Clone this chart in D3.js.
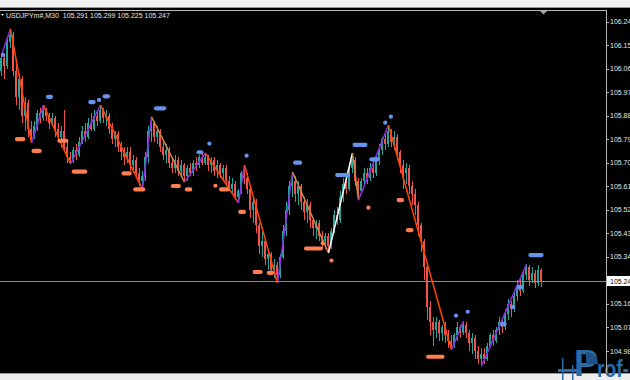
<!DOCTYPE html>
<html>
<head>
<meta charset="utf-8">
<script src="https://cdn.jsdelivr.net/npm/d3@7"></script>
<style>
  body { margin: 0; background: #000; }
  svg { display: block; }
  text { font-family: "Liberation Sans", Arial, sans-serif; }
</style>
</head>
<body>
<svg id="chart" width="630" height="380"></svg>
<script>
// ---- data ----
const symbol = "USDJPYm#,M30";
const lastBar = [105.291, 105.299, 105.225, 105.247]; // O H L C of the last bar
const firstOpen = 106.05;

const closes = [
  106.10,106.07,106.16,106.19,106.05,105.95,106.02,105.88,105.93,105.83,
  105.80,105.84,105.89,105.87,105.90,105.88,105.85,105.87,105.83,105.80,
  105.82,105.76,105.72,105.71,105.75,105.73,105.78,105.82,105.80,105.85,
  105.83,105.88,105.86,105.90,105.87,105.88,105.83,105.79,105.81,105.76,
  105.74,105.72,105.74,105.69,105.71,105.66,105.63,105.65,105.72,105.82,
  105.85,105.80,105.82,105.76,105.73,105.75,105.70,105.68,105.71,105.67,
  105.69,105.65,105.68,105.66,105.70,105.69,105.72,105.70,105.72,105.69,
  105.71,105.67,105.69,105.66,105.68,105.63,105.60,105.62,105.57,105.59,
  105.66,105.64,105.60,105.52,105.55,105.46,105.38,105.40,105.33,105.35,
  105.29,105.31,105.27,105.34,105.44,105.52,105.61,105.63,105.58,105.61,
  105.55,105.51,105.54,105.48,105.45,105.47,105.42,105.40,105.42,105.38,
  105.44,105.50,105.48,105.57,105.62,105.60,105.68,105.71,105.63,105.59,
  105.63,105.66,105.64,105.68,105.66,105.71,105.75,105.79,105.77,105.82,
  105.78,105.80,105.74,105.69,105.66,105.68,105.61,105.58,105.54,105.46,
  105.40,105.30,105.15,105.09,105.06,105.09,105.05,105.07,105.04,105.02,
  105.00,105.04,105.07,105.05,105.08,105.05,105.01,105.03,104.98,104.95,
  104.97,104.95,105.00,105.04,105.02,105.06,105.09,105.07,105.12,105.16,
  105.14,105.19,105.23,105.21,105.27,105.30,105.25,105.28,105.24,105.291,
  105.247
];

const highs = [
  106.12,106.11,106.18,106.212,106.20,106.08,106.04,106.03,105.95,105.94,
  105.86,105.86,105.90,105.91,105.92,105.91,105.89,105.89,105.88,105.85,
  105.84,105.90,105.78,105.74,105.76,105.77,105.80,105.84,105.85,105.87,
  105.89,105.90,105.90,105.92,105.91,105.90,105.89,105.85,105.82,105.82,
  105.78,105.76,105.76,105.76,105.73,105.72,105.68,105.67,105.74,105.84,
  105.875,105.86,105.84,105.83,105.78,105.77,105.76,105.72,105.73,105.72,
  105.71,105.70,105.69,105.70,105.71,105.72,105.73,105.74,105.737,105.73,
  105.72,105.72,105.71,105.70,105.69,105.69,105.65,105.64,105.63,105.60,
  105.67,105.691,105.66,105.61,105.57,105.56,105.47,105.44,105.41,105.37,
  105.36,105.33,105.32,105.35,105.46,105.55,105.63,105.664,105.65,105.63,
  105.62,105.57,105.56,105.55,105.49,105.48,105.48,105.44,105.43,105.43,
  105.45,105.52,105.53,105.59,105.64,105.65,105.70,105.737,105.72,105.64,
  105.64,105.68,105.68,105.70,105.70,105.73,105.77,105.80,105.82,105.844,
  105.83,105.82,105.81,105.75,105.71,105.70,105.69,105.63,105.60,105.55,
  105.47,105.41,105.31,105.17,105.11,105.11,105.10,105.08,105.09,105.06,
  105.04,105.05,105.09,105.08,105.095,105.09,105.06,105.05,105.04,105.00,
  104.99,104.99,105.01,105.05,105.06,105.07,105.11,105.10,105.14,105.18,
  105.17,105.21,105.25,105.26,105.29,105.312,105.31,105.30,105.29,105.31,
  105.299
];

const lows = [
  106.03,106.02,106.06,106.14,106.03,105.92,105.90,105.85,105.82,105.80,
  105.775,105.79,105.82,105.85,105.86,105.86,105.83,105.84,105.80,105.78,
  105.76,105.74,105.70,105.695,105.70,105.71,105.72,105.77,105.78,105.79,
  105.82,105.82,105.84,105.85,105.85,105.84,105.81,105.77,105.76,105.74,
  105.71,105.69,105.70,105.67,105.66,105.64,105.61,105.599,105.63,105.70,
  105.78,105.78,105.77,105.74,105.71,105.70,105.68,105.66,105.66,105.65,
  105.64,105.626,105.63,105.65,105.65,105.67,105.68,105.69,105.69,105.67,
  105.66,105.65,105.64,105.64,105.63,105.61,105.59,105.58,105.56,105.546,
  105.58,105.62,105.58,105.49,105.47,105.43,105.35,105.34,105.31,105.29,
  105.27,105.26,105.24,105.26,105.33,105.42,105.50,105.57,105.55,105.54,
  105.52,105.48,105.47,105.45,105.42,105.41,105.40,105.37,105.37,105.355,
  105.37,105.43,105.46,105.47,105.55,105.58,105.59,105.66,105.61,105.557,
  105.58,105.61,105.62,105.63,105.64,105.65,105.69,105.73,105.75,105.76,
  105.76,105.75,105.71,105.66,105.60,105.62,105.58,105.54,105.50,105.42,
  105.36,105.25,105.10,105.04,105.00,105.03,105.02,105.02,105.01,104.99,
  104.984,104.99,105.02,105.03,105.04,105.03,104.98,104.97,104.95,104.93,
  104.922,104.93,104.94,104.99,105.00,105.01,105.04,105.05,105.06,105.10,
  105.11,105.13,105.17,105.19,105.20,105.25,105.23,105.24,105.22,105.23,
  105.225
];

const priceTicks = [106.24, 106.15, 106.06, 105.97, 105.88, 105.79, 105.70, 105.61,
                    105.52, 105.43, 105.34, 105.16, 105.07, 104.98];

// zigzag pivots (bar index, price) and the colour of each leg to the next pivot
const zzBars   = [0, 3, 10, 14, 23, 33, 47, 50, 61, 68, 79, 81, 92, 97, 109, 117, 119, 129, 150, 154, 160, 175];
const zzPrices = [106.112, 106.212, 105.775, 105.920, 105.695, 105.920, 105.599, 105.875, 105.626, 105.737,
                  105.546, 105.691, 105.240, 105.664, 105.355, 105.737, 105.557, 105.844, 104.984, 105.095,
                  104.922, 105.312];
const zzLegs   = ["up","down","up","down","up","down","up","fade","up","down",
                  "up","down","up","fade","white","fade","up","down","up","none","up"];

// marker runs above highs / below lows: [from bar, to bar, price]
const upMarks = [
  [0.5,0.5,106.112],[15.5,16.5,105.952],[29.6,30.7,105.932],[32.5,32.5,105.940],[34.4,35.5,105.954],
  [51.5,54.2,105.908],[65.7,66.6,105.740],[69.3,69.3,105.773],[81.7,81.7,105.727],[97.9,99.5,105.700],
  [111.9,115.5,105.653],[117.7,121.3,105.768],[123.3,125.3,105.713],[127.9,127.9,105.853],[129.8,129.8,105.876],
  [151.5,151.5,105.115],[155.4,155.4,105.130],[166.8,167.7,105.083],[170.2,170.6,105.149],[172.4,173.3,105.225],
  [176.3,180,105.347]
];
const downMarks = [
  [5.2,7.2,105.790],[10.7,12.7,105.745],[19.3,21.6,105.784],[24.1,27.9,105.666],[40.7,42.7,105.659],
  [44.6,47.2,105.598],[57.1,59.1,105.611],[61.8,62.9,105.598],[71.3,71.3,105.612],[73.2,75.3,105.598],
  [79.6,80.8,105.512],[84.4,86.4,105.282],[89.1,90.2,105.279],[101.5,106.4,105.372],[107.1,107.1,105.392],
  [110,110,105.326],[122.3,122.3,105.528],[132.4,133.5,105.557],[135.5,136.6,105.442],[142.2,147,104.958]
];

// ---- drawing ----
const W = 630, H = 380, plotRight = 606, plotTop = 10, plotBottom = 373;
const bull = "#26a69a", bear = "#ef5350";
const legColor = { up: "#8a2be2", down: "#ff4500", fade: "#cd853f", white: "#ffffff", none: "none" };

const svg = d3.select("#chart");
const N = closes.length;
const bars = closes.map((c, i) => ({
  i, o: i === 0 ? firstOpen : closes[i - 1], h: highs[i], l: lows[i], c
}));

const x = d3.scaleLinear().domain([-0.5, N - 0.5]).range([0, 3 * N]);
const y = d3.scaleLinear().domain([104.98, 106.24]).range([351, 21.5]);

svg.append("rect").attr("width", W).attr("height", H).attr("fill", "#000");

svg.append("defs").append("clipPath").attr("id", "plot")
  .append("rect").attr("x", 0).attr("y", plotTop).attr("width", plotRight).attr("height", plotBottom - plotTop);

const plot = svg.append("g").attr("clip-path", "url(#plot)");

// candles
const cg = plot.append("g").attr("shape-rendering", "crispEdges");
cg.selectAll("rect.wick").data(bars).enter().append("rect")
  .attr("class", "wick")
  .attr("x", d => x(d.i) - 0.5)
  .attr("width", 1)
  .attr("y", d => y(Math.max(d.h, d.o, d.c)))
  .attr("height", d => y(Math.min(d.l, d.o, d.c)) - y(Math.max(d.h, d.o, d.c)))
  .attr("fill", d => d.c >= d.o ? bull : bear);
cg.selectAll("rect.body").data(bars).enter().append("rect")
  .attr("class", "body")
  .attr("x", d => x(d.i) - 1.5)
  .attr("width", 2)
  .attr("y", d => y(Math.max(d.o, d.c)))
  .attr("height", d => Math.max(1, Math.abs(y(d.o) - y(d.c))))
  .attr("fill", d => d.c >= d.o ? bull : bear);

// zigzag legs
const legs = zzLegs.map((k, j) => ({ k, a: j, b: j + 1 })).filter(d => d.k !== "none");
plot.append("g").selectAll("line").data(legs).enter().append("line")
  .attr("x1", d => x(zzBars[d.a])).attr("y1", d => y(zzPrices[d.a]))
  .attr("x2", d => x(zzBars[d.b])).attr("y2", d => y(zzPrices[d.b]))
  .attr("stroke", d => legColor[d.k])
  .attr("stroke-width", 1.5);

// marker runs
function drawMarks(data, color) {
  plot.append("g").selectAll("line").data(data).enter().append("line")
    .attr("x1", d => x(d[0])).attr("x2", d => x(d[1]) + 0.01)
    .attr("y1", d => y(d[2])).attr("y2", d => y(d[2]))
    .attr("stroke", color)
    .attr("stroke-width", 4.2)
    .attr("stroke-linecap", "round");
}
drawMarks(upMarks, "#6495ed");
drawMarks(downMarks, "#ff7f50");

// current price line
const lastY = Math.round(y(lastBar[3])) + 0.5;
svg.append("line").attr("x1", 0).attr("x2", plotRight).attr("y1", lastY).attr("y2", lastY)
  .attr("stroke", "#8a8a8a").attr("stroke-width", 1);

// window strips
svg.append("rect").attr("x", 0).attr("y", 0).attr("width", W).attr("height", 7).attr("fill", "#f2f2f2");
svg.append("line").attr("x1", 0).attr("x2", W).attr("y1", 7.5).attr("y2", 7.5).attr("stroke", "#9a9a9a");
svg.append("rect").attr("x", 0).attr("y", 374).attr("width", W).attr("height", 6).attr("fill", "#eeeeee");
svg.append("line").attr("x1", 0).attr("x2", W).attr("y1", 373.5).attr("y2", 373.5).attr("stroke", "#9a9a9a");

// watermark
const wm = svg.append("g").attr("fill", "#2a6aa6");
wm.append("text").attr("x", 574).attr("y", 376).attr("font-size", 36).attr("font-weight", "bold").text("P");
wm.append("text").attr("transform", "translate(597,377) scale(0.8,1)")
  .attr("font-size", 24).attr("font-weight", "bold").text("rof-F");
wm.append("path").attr("d", "M586,352 L586,364 L598,364 A12,12 0 0 0 586,352 Z").attr("fill", "#1f5288");
wm.append("rect").attr("x", 558).attr("y", 369).attr("width", 19).attr("height", 3);
wm.append("rect").attr("x", 562).attr("y", 358).attr("width", 1.5).attr("height", 22);
wm.append("rect").attr("x", 572).attr("y", 365).attr("width", 1.5).attr("height", 15);

// frame and price axis
svg.append("line").attr("x1", 0).attr("x2", plotRight).attr("y1", plotTop + 0.5).attr("y2", plotTop + 0.5)
  .attr("stroke", "#b4b4b4");
svg.append("line").attr("x1", plotRight + 0.5).attr("x2", plotRight + 0.5).attr("y1", plotTop).attr("y2", plotBottom)
  .attr("stroke", "#b4b4b4");
svg.append("path").attr("d", "M540,11 L547,11 L543.5,14.5 Z").attr("fill", "#9aa4b4");

const ax = svg.append("g");
ax.selectAll("line").data(priceTicks).enter().append("line")
  .attr("x1", plotRight).attr("x2", plotRight + 3)
  .attr("y1", d => Math.round(y(d)) + 0.5).attr("y2", d => Math.round(y(d)) + 0.5)
  .attr("stroke", "#b4b4b4");
ax.selectAll("text").data(priceTicks).enter().append("text")
  .attr("x", plotRight + 4).attr("y", d => y(d) + 2.5)
  .attr("font-size", 7).attr("fill", "#e6e6e6")
  .text(d => d3.format(".3f")(d));

// price box
svg.append("rect").attr("x", plotRight + 1).attr("y", lastY - 5.5).attr("width", 24).attr("height", 10)
  .attr("fill", "#ffffff");
svg.append("text").attr("x", plotRight + 4).attr("y", lastY + 2.5)
  .attr("font-size", 7).attr("fill", "#000").text(d3.format(".3f")(lastBar[3]));

// header
svg.append("path").attr("d", "M1,14 L4,14 L2.5,16 Z").attr("fill", "#dddddd");
svg.append("text").attr("x", 6).attr("y", 18).attr("font-size", 7).attr("fill", "#e6e6e6")
  .attr("xml:space", "preserve")
  .text(symbol + "  " + lastBar.map(d3.format(".3f")).join(" "));
</script>
</body>
</html>
